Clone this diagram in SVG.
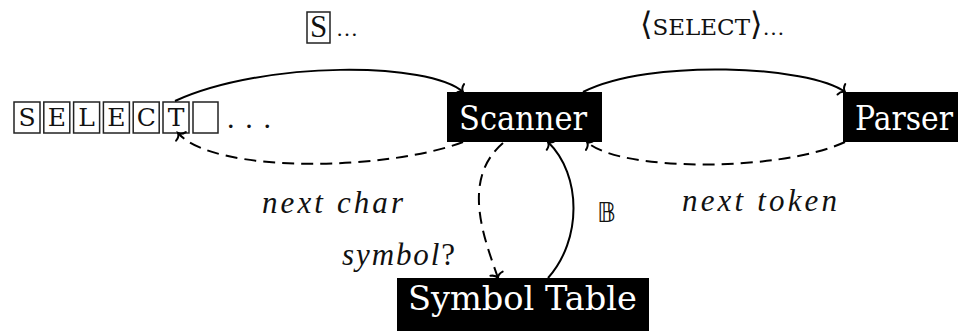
<svg xmlns="http://www.w3.org/2000/svg" width="958" height="331" viewBox="0 0 958 331">
  <style>
    .cell { fill: none; stroke: #222; stroke-width: 1.5; }
    .tt { font-family: "DejaVu Serif", "Liberation Serif", serif; font-size: 25px; fill: #111; }
    .rm { font-family: "Liberation Serif", "DejaVu Serif", serif; fill: #111; }
    .it { font-family: "Liberation Serif", "DejaVu Serif", serif; font-style: italic; font-size: 31px; fill: #111; }
    .node rect { fill: #000; }
    .node text { font-family: "DejaVu Serif", "Liberation Serif", serif; font-size: 34px; fill: #fff; }
    .edge { fill: none; stroke: #000; stroke-width: 2; }
    .dash { stroke-dasharray: 12 7; }
  </style>
  <defs>
    <marker id="to" markerUnits="userSpaceOnUse" orient="auto" overflow="visible" markerWidth="12" markerHeight="14" refX="0" refY="0">
      <path d="M -4.5,-6.5 C -4,-3 -1.8,-0.7 0,0 C -1.8,0.7 -4,3 -4.5,6.5" fill="none" stroke="#000" stroke-width="2" stroke-linecap="round"/>
    </marker>
  </defs>

  <rect width="958" height="331" fill="#fff"/>

  <!-- input tape -->
  <g id="tape">
    <rect class="cell" x="14" y="102" width="26" height="31"/>
    <rect class="cell" x="43.8" y="102" width="26" height="31"/>
    <rect class="cell" x="73.6" y="102" width="26" height="31"/>
    <rect class="cell" x="103.4" y="102" width="26" height="31"/>
    <rect class="cell" x="133.2" y="102" width="26" height="31"/>
    <rect class="cell" x="163" y="102" width="26" height="31"/>
    <rect class="cell" x="193" y="102" width="25" height="31"/>
    <text class="tt" text-anchor="middle" x="27" y="126">S</text>
    <text class="tt" text-anchor="middle" x="56.8" y="126">E</text>
    <text class="tt" text-anchor="middle" x="86.6" y="126">L</text>
    <text class="tt" text-anchor="middle" x="116.4" y="126">E</text>
    <text class="tt" text-anchor="middle" x="146.2" y="126">C</text>
    <text class="tt" text-anchor="middle" x="176" y="126">T</text>
    <text class="rm" x="227" y="128" font-size="30" textLength="44">. . .</text>
  </g>

  <g id="scanner" class="node">
    <rect x="447" y="92" width="155" height="50"/>
    <text x="459" y="130" textLength="128" lengthAdjust="spacingAndGlyphs">Scanner</text>
  </g>

  <g id="parser" class="node">
    <rect x="843" y="92" width="115" height="50"/>
    <text x="855" y="130" textLength="98" lengthAdjust="spacingAndGlyphs">Parser</text>
  </g>

  <g id="symtab" class="node">
    <rect x="397" y="278" width="252" height="53"/>
    <text x="408" y="310" textLength="229" lengthAdjust="spacingAndGlyphs">Symbol Table</text>
  </g>

  <!-- edge labels -->
  <g id="labels">
    <g id="label-char">
      <rect class="cell" x="307" y="12" width="23" height="31"/>
      <text class="rm" x="318.5" y="37" font-size="31" text-anchor="middle">S</text>
      <text class="rm" x="336" y="36" font-size="22" textLength="23">…</text>
    </g>
    <text id="label-token" x="640" y="35" fill="#111"><tspan font-family="DejaVu Sans, sans-serif" font-size="32">⟨</tspan><tspan font-family="DejaVu Serif, serif" font-size="23">SELECT</tspan><tspan font-family="DejaVu Sans, sans-serif" font-size="32">⟩</tspan><tspan font-family="Liberation Serif, serif" font-size="22">…</tspan></text>
    <text class="it" x="262" y="213" textLength="141">next char</text>
    <text class="it" x="682" y="211" textLength="155">next token</text>
    <text class="it" x="342" y="265" textLength="113"><tspan>symbol</tspan><tspan font-style="normal">?</tspan></text>
    <text x="597" y="222" font-family="DejaVu Sans, Noto Sans, sans-serif" font-size="26" fill="#111">𝔹</text>
  </g>

  <!-- connectors -->
  <g id="connectors">
    <path class="edge" d="M175,101 C265,60 430,62 463,92" marker-end="url(#to)"/>
    <path class="edge dash" d="M463,142 C390,170 215,175 178,133" marker-end="url(#to)"/>
    <path class="edge" d="M583,92 C650,58 810,66 845,92" marker-end="url(#to)"/>
    <path class="edge dash" d="M845,142 C780,172 620,172 587,142" marker-end="url(#to)"/>
    <path class="edge dash" d="M503,143 C460,180 485,240 498,278" marker-end="url(#to)"/>
    <path class="edge" d="M548,278 C582,240 582,175 548,142" marker-end="url(#to)"/>
  </g>
</svg>
